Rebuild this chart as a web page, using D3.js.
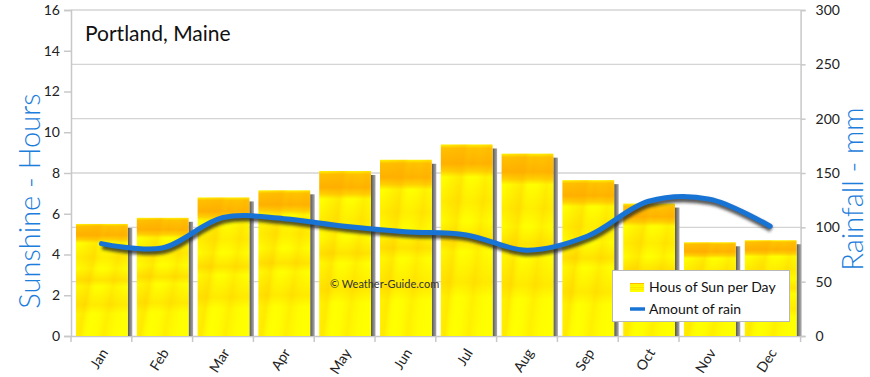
<!DOCTYPE html>
<html><head><meta charset="utf-8">
<script src="https://cdn.jsdelivr.net/npm/d3@7"></script>
<style>body{margin:0;background:#fff}svg{display:block}text{font-family:Lato,"Open Sans",sans-serif}</style>
</head><body><svg id="c" width="870" height="377"></svg>
<script>
const months = ["Jan","Feb","Mar","Apr","May","Jun","Jul","Aug","Sep","Oct","Nov","Dec"];
const sunHours = [5.5,5.8,6.8,7.15,8.1,8.65,9.4,8.95,7.65,6.5,4.6,4.7];
const rainMm = [85,81,109,108,101,96,93,79,92,124,126,101];
const leftTicks = [0,2,4,6,8,10,12,14,16];
const rightTicks = [0,50,100,150,200,250,300];

const svg = d3.select("#c");
const L=71, R=800.6, T=10, B=336;
const x = d3.scaleBand().domain(months).range([L,R]);
const yL = d3.scaleLinear().domain([0,16]).range([B,T]);
const yR = d3.scaleLinear().domain([0,300]).range([B,T]);

const defs = svg.append("defs");
const g1 = defs.append("linearGradient").attr("id","sunV").attr("x1",0).attr("y1",0).attr("x2",0).attr("y2",1);
[[0,"#fff200"],[0.02,"#ffc000"],[0.1,"#ffb000"],[0.14,"#ffd000"],[0.17,"#ffff00"],[0.3,"#ffee00"],[0.4,"#ffff00"],[0.5,"#ffe400"],[0.56,"#ffff00"],[0.72,"#ffea00"],[0.8,"#ffff00"],[1,"#ffff00"]]
  .forEach(s=>g1.append("stop").attr("offset",s[0]).attr("stop-color",s[1]));
const g2 = defs.append("linearGradient").attr("id","sunD").attr("x1",0).attr("y1",0.3).attr("x2",1).attr("y2",0.7);
[[0,"#ffa800",0],[0.3,"#ffa800",0.25],[0.45,"#ffff00",0],[0.7,"#ffb000",0.2],[1,"#ffff00",0]]
  .forEach(s=>g2.append("stop").attr("offset",s[0]).attr("stop-color",s[1]).attr("stop-opacity",s[2]));
const gs = defs.append("linearGradient").attr("id","shad").attr("x1",0).attr("y1",0).attr("x2",1).attr("y2",0);
[[0,"#555"],[1,"#aaa"]].forEach(s=>gs.append("stop").attr("offset",s[0]).attr("stop-color",s[1]));
const blur = defs.append("filter").attr("id","blur").attr("x","-10%").attr("y","-50%").attr("width","120%").attr("height","200%");
blur.append("feGaussianBlur").attr("stdDeviation",1.5);

// gridlines (right axis)
svg.append("g").selectAll("line").data(rightTicks.slice(1)).join("line")
  .attr("x1",L).attr("x2",R).attr("y1",d=>yR(d)).attr("y2",d=>yR(d))
  .attr("stroke","#d4d4d4").attr("stroke-width",1.3);

// left axis
const gl = svg.append("g").attr("transform",`translate(${L},0)`).call(d3.axisLeft(yL).tickValues(leftTicks).tickSize(7).tickPadding(4));
gl.select(".domain").attr("stroke","#c8c8c8").attr("stroke-width",1.5);
gl.selectAll(".tick line").attr("stroke","#c8c8c8").attr("stroke-width",1.5);
gl.selectAll("text").attr("font-size",14).attr("fill","#222");

// right axis
const gr = svg.append("g").attr("transform",`translate(${R},0)`).call(d3.axisRight(yR).tickValues(rightTicks).tickSize(5).tickPadding(10));
gr.select(".domain").attr("stroke","#c8c8c8").attr("stroke-width",1.5);
gr.selectAll(".tick line").attr("stroke","#c8c8c8").attr("stroke-width",1.5);
gr.selectAll("text").attr("font-size",14).attr("fill","#222");

// bottom axis
const gb = svg.append("g").attr("transform",`translate(0,${B})`).call(d3.axisBottom(x).tickSize(0).tickPadding(0));
gb.select(".domain").attr("stroke","#c8c8c8").attr("stroke-width",1.5);
gb.selectAll(".tick text").attr("font-size",14).attr("fill","#222")
  .attr("text-anchor","end").attr("transform","translate(3,14) rotate(-58)").attr("dy","0.35em");
svg.append("g").selectAll("line").data(months.concat(["end"])).join("line")
  .attr("x1",(d,i)=>L+i*x.step()).attr("x2",(d,i)=>L+i*x.step()).attr("y1",B).attr("y2",B+6)
  .attr("stroke","#c8c8c8").attr("stroke-width",1.5);

// bars
const bw = x.bandwidth()-8;
const bars = svg.append("g");
bars.selectAll(".sh").data(sunHours).join("rect")
  .attr("x",(d,i)=>x(months[i])+5+bw-1).attr("y",d=>yL(d)+4).attr("width",4.5)
  .attr("height",d=>B-yL(d)-4).attr("fill","url(#shad)");
bars.selectAll(".b").data(sunHours).join("rect")
  .attr("x",(d,i)=>x(months[i])+5).attr("y",d=>yL(d)).attr("width",bw-1)
  .attr("height",d=>B-yL(d)).attr("fill","url(#sunV)");
bars.selectAll(".b2").data(sunHours).join("rect")
  .attr("x",(d,i)=>x(months[i])+5).attr("y",d=>yL(d)).attr("width",bw-1)
  .attr("height",d=>B-yL(d)).attr("fill","url(#sunD)");

// rain line
const line = d3.line().x((d,i)=>x(months[i])+x.bandwidth()/2).y(d=>yR(d)).curve(d3.curveCatmullRom.alpha(0.5));
svg.append("path").datum(rainMm).attr("d",line).attr("fill","none")
  .attr("stroke","#222").attr("stroke-opacity",0.75).attr("stroke-width",6).attr("transform","translate(1,3)").attr("filter","url(#blur)");
svg.append("path").datum(rainMm).attr("d",line).attr("fill","none")
  .attr("stroke","#1874d4").attr("stroke-width",5).attr("stroke-linecap","round");

// title
svg.append("text").attr("x",85).attr("y",41).attr("font-size",21).attr("fill","#111").text("Portland, Maine");
// watermark
svg.append("text").attr("x",330).attr("y",288).attr("font-size",11).attr("fill","#333").text("© Weather-Guide.com");

// axis titles
svg.append("text").attr("transform","translate(40,201) rotate(-90)").attr("text-anchor","middle")
  .attr("font-size",29).attr("font-weight",300).attr("fill","#1c7ddb").text("Sunshine - Hours");
svg.append("text").attr("transform","translate(863,189) rotate(-90)").attr("text-anchor","middle")
  .attr("font-size",29).attr("font-weight",300).attr("fill","#1c7ddb").text("Rainfall - mm");

// legend
const lg = svg.append("g");
lg.append("rect").attr("x",612.5).attr("y",270.5).attr("width",177).attr("height",51)
  .attr("fill","#fff").attr("stroke","#b8b8b8");
lg.append("rect").attr("x",630).attr("y",283).attr("width",14).attr("height",9).attr("fill","url(#sunV)");
lg.append("text").attr("x",649).attr("y",292).attr("font-size",14).attr("fill","#111").text("Hous of Sun per Day");
lg.append("line").attr("x1",630).attr("x2",645).attr("y1",309).attr("y2",309).attr("stroke","#1874d4").attr("stroke-width",3.5);
lg.append("text").attr("x",649).attr("y",314).attr("font-size",14).attr("fill","#111").text("Amount of rain");
</script></body></html>
